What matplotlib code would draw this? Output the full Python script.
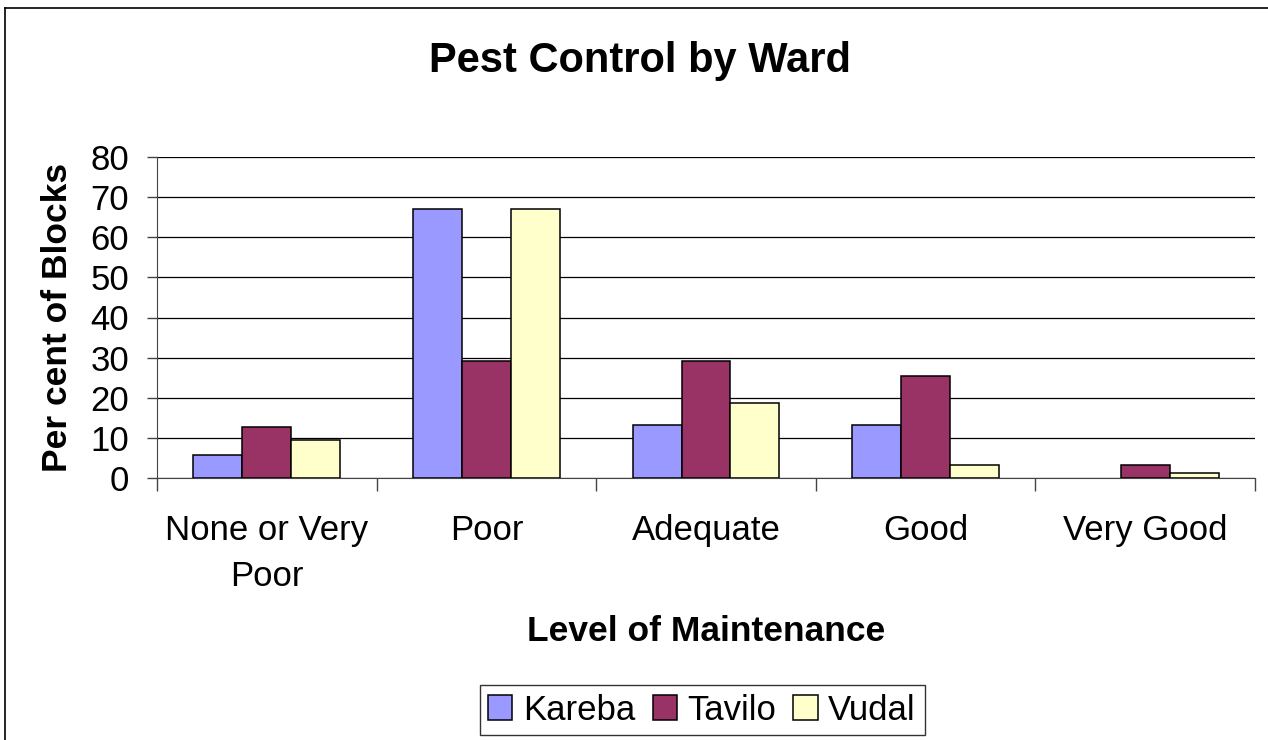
import matplotlib.pyplot as plt
import numpy as np
from matplotlib.lines import Line2D

plt.rcParams['font.family'] = ['Liberation Sans', 'DejaVu Sans']

categories = ['None or Very\nPoor', 'Poor', 'Adequate', 'Good', 'Very Good']
kareba = [5.8, 67.1, 13.1, 13.1, 0]
tavilo = [12.7, 29.2, 29.2, 25.5, 3.2]
vudal = [9.5, 67.1, 18.6, 3.2, 1.3]
series_names = ['Kareba', 'Tavilo', 'Vudal']
colors = ['#9999FF', '#993366', '#FFFFCC']

fig = plt.figure(figsize=(12.68, 7.40), dpi=100)
ax = fig.add_axes([157/1268, 1-478/740, (1255-157)/1268, (478-157)/740])

x = np.arange(len(categories))
w = 0.223
for i, (vals, name) in enumerate(zip([kareba, tavilo, vudal], series_names)):
    bars = ax.bar(x + (i-1)*w, vals, w, color=colors[i], edgecolor='black', linewidth=1.1,
                  label=name, zorder=3)
    for b in bars:
        if b.get_height() == 0:
            b.set_linewidth(0)

ax.set_xlim(-0.5, len(categories)-0.5)
ax.set_ylim(0, 80)
ax.set_yticks(range(0, 81, 10))
ax.yaxis.grid(True, color='black', linewidth=0.9, zorder=0)
ax.set_axisbelow(True)

ax.set_xticks(x)
ax.set_xticklabels(categories, fontsize=25, linespacing=1.5)
ax.set_xticks(np.arange(-0.5, len(categories), 1), minor=True)
ax.tick_params(axis='x', which='major', length=0, pad=26)
ax.tick_params(axis='x', which='minor', length=9, width=1, color='#444444')
ax.tick_params(axis='y', labelsize=25, length=7, width=1, color='#444444', pad=13)

for s in ['top', 'right']:
    ax.spines[s].set_visible(False)
ax.spines['left'].set_color('#444444')
ax.spines['bottom'].set_color('#444444')

ax.set_xlabel('Level of Maintenance', fontsize=25.5, fontweight='bold', labelpad=16)
ax.set_ylabel('Per cent of Blocks', fontsize=25.5, fontweight='bold', labelpad=12)
fig.text(0.505, 1-61/740, 'Pest Control by Ward', fontsize=30, fontweight='bold',
         ha='center', va='center')

leg = fig.legend(loc='center', bbox_to_anchor=(702/1268, 1-710/740), ncol=3,
                 fontsize=25, frameon=True, fancybox=False, handlelength=0.7,
                 handleheight=0.7, handletextpad=0.3, columnspacing=0.5,
                 borderpad=0.25, borderaxespad=0)
leg.get_frame().set_edgecolor('black')
leg.get_frame().set_linewidth(1)

# outer chart frame (right and bottom edges fall outside the image)
fig.add_artist(Line2D([5/1268, 5/1268], [0, 1-8/740], color='black', linewidth=1.2,
                      transform=fig.transFigure))
fig.add_artist(Line2D([5/1268, 1], [1-8/740, 1-8/740], color='black', linewidth=1.2,
                      transform=fig.transFigure))

fig.savefig('out.png', dpi=100)
